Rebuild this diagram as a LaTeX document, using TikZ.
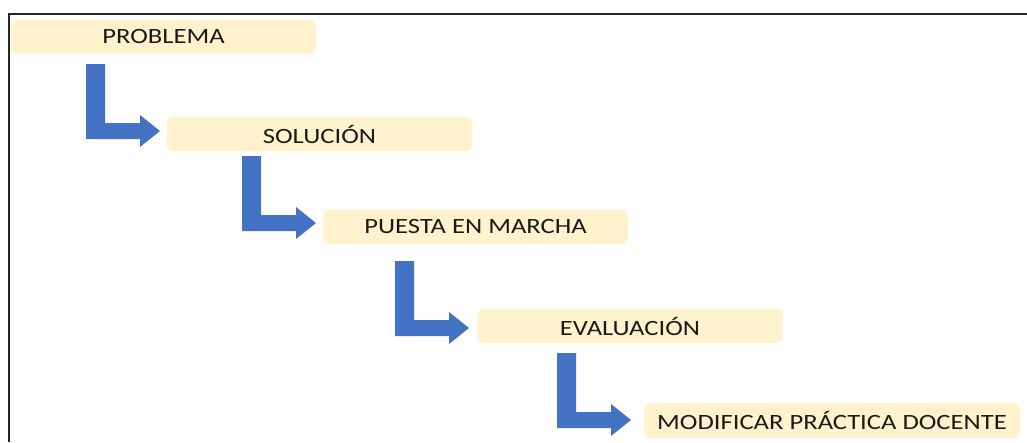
\documentclass[tikz,border=0pt]{standalone}
\usepackage{fontspec}
\setmainfont{Carlito}[FakeStretch=1.22]
\definecolor{boxfill}{HTML}{FFF2CC}
\definecolor{arrowblue}{HTML}{4472C4}
\definecolor{textdark}{HTML}{1A1A1A}
\tikzset{
  stepbox/.style={fill=boxfill, rounded corners=5pt, inner sep=0pt,
    minimum width=305pt, minimum height=34pt, text=textdark,
    font=\fontsize{21.8}{26}\selectfont},
  framestyle/.style={line width=1.6pt, draw=black!85},
  bentarrow/.pic={
    \fill[arrowblue] (0,0) -- (19,0) -- (19,59) -- (54,59) -- (54,51) -- (74,67)
      -- (54,83) -- (54,75) -- (0,75) -- cycle;
  }
}
\begin{document}
\begin{tikzpicture}[x=1pt,y=-1pt]
\useasboundingbox (0,0) rectangle (1027,442);
\coordinate (ftop) at (1027,14);
\coordinate (fcorner) at (9,14);
\coordinate (fbottom) at (9,442);
\draw[framestyle] (ftop) -- (fcorner) -- (fbottom);
\node[stepbox] (b1) at (163.5,36.5) {PROBLEMA};
\node[stepbox] (b2) at (319.5,134) {SOLUCIÓN};
\node[stepbox] (b3) at (475.5,227) {PUESTA EN MARCHA};
\node[stepbox] (b4) at (630,326) {EVALUACIÓN};
\node[stepbox, minimum width=376pt, minimum height=35pt] (b5) at (832,420.5) {MODIFICAR PRÁCTICA DOCENTE};
\pic at (86,64) {bentarrow};
\pic at (242,156) {bentarrow};
\pic at (395,261) {bentarrow};
\pic at (557,353) {bentarrow};
\end{tikzpicture}
\end{document}
